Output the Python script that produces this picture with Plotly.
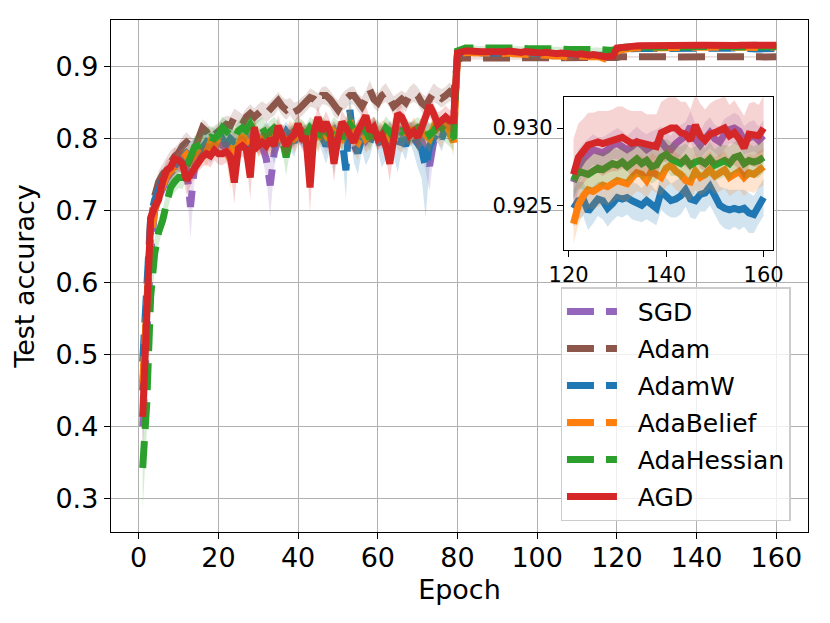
import plotly.graph_objects as go

EPOCHS = list(range(1, 161))
X_TICKS = [0, 20, 40, 60, 80, 100, 120, 140, 160]
Y_TICKS = [0.3, 0.4, 0.5, 0.6, 0.7, 0.8, 0.9]
INSET_X_TICKS = [120, 140, 160]
INSET_Y_TICKS = [0.925, 0.930]
INSET_Y_LABELS = ["0.925", "0.930"]

NAMES = ["SGD", "Adam", "AdamW", "AdaBelief", "AdaHessian", "AGD"]
COLORS = ["#9467bd", "#8c564b", "#1f77b4", "#ff7f0e", "#2ca02c", "#d62728"]

SGD_MEAN = [
    0.400, 0.520, 0.640, 0.700, 0.720, 0.730, 0.745, 0.752, 0.760, 0.765,
    0.770, 0.758, 0.705, 0.760, 0.775, 0.780, 0.786, 0.780, 0.790, 0.795,
    0.790, 0.786, 0.792, 0.796, 0.788, 0.800, 0.795, 0.802, 0.792, 0.800,
    0.790, 0.772, 0.735, 0.780, 0.800, 0.806, 0.798, 0.810, 0.800, 0.808,
    0.800, 0.806, 0.812, 0.798, 0.815, 0.808, 0.796, 0.806, 0.812, 0.800,
    0.815, 0.802, 0.810, 0.794, 0.815, 0.808, 0.798, 0.806, 0.818, 0.810,
    0.800, 0.804, 0.812, 0.796, 0.815, 0.808, 0.800, 0.812, 0.804, 0.810,
    0.798, 0.780, 0.762, 0.795, 0.810, 0.815, 0.820, 0.808, 0.815, 0.917,
    0.920, 0.921, 0.921, 0.920, 0.921, 0.920, 0.920, 0.921, 0.920, 0.920,
    0.919, 0.920, 0.920, 0.919, 0.920, 0.919, 0.919, 0.920, 0.919, 0.918,
    0.919, 0.918, 0.918, 0.919, 0.918, 0.917, 0.918, 0.917, 0.917, 0.916,
    0.917, 0.916, 0.916, 0.915, 0.916, 0.915, 0.915, 0.914, 0.915, 0.9255,
    0.9265, 0.9275, 0.9280, 0.9283, 0.9286, 0.9285, 0.9284, 0.9286, 0.9289, 0.9290,
    0.9288, 0.9286, 0.9288, 0.9291, 0.9289, 0.9286, 0.9288, 0.9290, 0.9291, 0.9287,
    0.9286, 0.9290, 0.9292, 0.9295, 0.9301, 0.9293, 0.9289, 0.9294, 0.9297, 0.9293,
    0.9291, 0.9296, 0.9299, 0.9300, 0.9298, 0.9292, 0.9294, 0.9295, 0.9292, 0.9295,
]
SGD_STD = [
    0.040, 0.030, 0.020, 0.016, 0.015, 0.015, 0.014, 0.014, 0.014, 0.015,
    0.015, 0.020, 0.045, 0.020, 0.015, 0.014, 0.012, 0.015, 0.012, 0.014,
    0.014, 0.015, 0.012, 0.014, 0.016, 0.012, 0.015, 0.012, 0.016, 0.014,
    0.015, 0.025, 0.045, 0.020, 0.012, 0.014, 0.015, 0.012, 0.014, 0.013,
    0.014, 0.013, 0.012, 0.016, 0.012, 0.014, 0.018, 0.013, 0.012, 0.015,
    0.012, 0.015, 0.013, 0.020, 0.012, 0.014, 0.016, 0.013, 0.012, 0.013,
    0.015, 0.014, 0.012, 0.018, 0.012, 0.014, 0.016, 0.012, 0.014, 0.013,
    0.016, 0.025, 0.035, 0.018, 0.013, 0.012, 0.012, 0.014, 0.013, 0.004,
    0.003, 0.003, 0.003, 0.003, 0.003, 0.003, 0.003, 0.003, 0.003, 0.003,
    0.003, 0.003, 0.003, 0.003, 0.003, 0.003, 0.003, 0.003, 0.003, 0.003,
    0.003, 0.003, 0.003, 0.003, 0.003, 0.003, 0.003, 0.003, 0.003, 0.003,
    0.003, 0.003, 0.003, 0.003, 0.003, 0.003, 0.003, 0.003, 0.003, 0.0015,
    0.0012, 0.0011, 0.0010, 0.0010, 0.0010, 0.0009, 0.0010, 0.0010, 0.0009, 0.0010,
    0.0010, 0.0009, 0.0010, 0.0010, 0.0009, 0.0010, 0.0010, 0.0009, 0.0010, 0.0010,
    0.0009, 0.0010, 0.0010, 0.0009, 0.0010, 0.0010, 0.0009, 0.0010, 0.0010, 0.0009,
    0.0010, 0.0010, 0.0009, 0.0010, 0.0010, 0.0009, 0.0010, 0.0010, 0.0009, 0.0010,
]

ADAM_MEAN = [
    0.450, 0.580, 0.680, 0.720, 0.740, 0.750, 0.760, 0.770, 0.775, 0.780,
    0.790, 0.795, 0.790, 0.785, 0.800, 0.815, 0.810, 0.800, 0.805, 0.810,
    0.815, 0.820, 0.818, 0.830, 0.825, 0.820, 0.830, 0.835, 0.830, 0.835,
    0.840, 0.835, 0.840, 0.845, 0.853, 0.845, 0.840, 0.845, 0.837, 0.840,
    0.845, 0.850, 0.857, 0.855, 0.850, 0.860, 0.860, 0.855, 0.845, 0.840,
    0.850, 0.855, 0.860, 0.860, 0.850, 0.845, 0.855, 0.868, 0.855, 0.850,
    0.860, 0.864, 0.855, 0.845, 0.850, 0.855, 0.850, 0.860, 0.864, 0.860,
    0.850, 0.845, 0.855, 0.864, 0.860, 0.856, 0.860, 0.865, 0.860, 0.909,
    0.912, 0.912, 0.911, 0.912, 0.911, 0.912, 0.911, 0.911, 0.912, 0.911,
    0.911, 0.912, 0.911, 0.911, 0.912, 0.911, 0.911, 0.912, 0.911, 0.911,
    0.912, 0.911, 0.911, 0.911, 0.912, 0.911, 0.911, 0.911, 0.912, 0.911,
    0.911, 0.911, 0.912, 0.911, 0.911, 0.911, 0.911, 0.911, 0.911, 0.913,
    0.9138, 0.9140, 0.9138, 0.9137, 0.9139, 0.9138, 0.9140, 0.9138, 0.9137, 0.9138,
    0.9139, 0.9138, 0.9137, 0.9138, 0.9140, 0.9138, 0.9137, 0.9138, 0.9139, 0.9138,
    0.9137, 0.9138, 0.9139, 0.9138, 0.9137, 0.9138, 0.9140, 0.9138, 0.9137, 0.9138,
    0.9139, 0.9138, 0.9137, 0.9138, 0.9139, 0.9138, 0.9137, 0.9138, 0.9138, 0.9139,
]
ADAM_STD = [
    0.040, 0.030, 0.020, 0.016, 0.015, 0.015, 0.014, 0.014, 0.013, 0.013,
    0.013, 0.014, 0.013, 0.014, 0.013, 0.012, 0.013, 0.014, 0.013, 0.012,
    0.013, 0.012, 0.013, 0.012, 0.013, 0.014, 0.012, 0.013, 0.012, 0.013,
    0.012, 0.013, 0.012, 0.013, 0.012, 0.013, 0.014, 0.012, 0.013, 0.012,
    0.013, 0.012, 0.013, 0.012, 0.013, 0.012, 0.013, 0.012, 0.014, 0.013,
    0.012, 0.013, 0.012, 0.013, 0.012, 0.013, 0.012, 0.013, 0.012, 0.013,
    0.012, 0.013, 0.012, 0.014, 0.013, 0.012, 0.013, 0.012, 0.013, 0.012,
    0.013, 0.014, 0.012, 0.013, 0.012, 0.013, 0.012, 0.013, 0.012, 0.004,
    0.002, 0.002, 0.002, 0.002, 0.002, 0.002, 0.002, 0.002, 0.002, 0.002,
    0.002, 0.002, 0.002, 0.002, 0.002, 0.002, 0.002, 0.002, 0.002, 0.002,
    0.002, 0.002, 0.002, 0.002, 0.002, 0.002, 0.002, 0.002, 0.002, 0.002,
    0.002, 0.002, 0.002, 0.002, 0.002, 0.002, 0.002, 0.002, 0.002, 0.002,
    0.0012, 0.0012, 0.0012, 0.0012, 0.0012, 0.0012, 0.0012, 0.0012, 0.0012, 0.0012,
    0.0012, 0.0012, 0.0012, 0.0012, 0.0012, 0.0012, 0.0012, 0.0012, 0.0012, 0.0012,
    0.0012, 0.0012, 0.0012, 0.0012, 0.0012, 0.0012, 0.0012, 0.0012, 0.0012, 0.0012,
    0.0012, 0.0012, 0.0012, 0.0012, 0.0012, 0.0012, 0.0012, 0.0012, 0.0012, 0.0012,
]

ADAMW_MEAN = [
    0.490, 0.600, 0.690, 0.715, 0.730, 0.742, 0.750, 0.756, 0.765, 0.770,
    0.775, 0.780, 0.775, 0.785, 0.780, 0.790, 0.795, 0.790, 0.800, 0.795,
    0.800, 0.790, 0.800, 0.795, 0.800, 0.805, 0.790, 0.785, 0.800, 0.795,
    0.800, 0.810, 0.800, 0.790, 0.805, 0.800, 0.810, 0.800, 0.795, 0.810,
    0.805, 0.800, 0.810, 0.800, 0.815, 0.800, 0.790, 0.800, 0.780, 0.810,
    0.800, 0.756, 0.840, 0.792, 0.780, 0.800, 0.788, 0.795, 0.810, 0.800,
    0.785, 0.790, 0.810, 0.795, 0.783, 0.800, 0.790, 0.810, 0.800, 0.790,
    0.785, 0.760, 0.790, 0.800, 0.810, 0.800, 0.815, 0.820, 0.815, 0.918,
    0.920, 0.920, 0.919, 0.920, 0.920, 0.919, 0.920, 0.919, 0.919, 0.920,
    0.919, 0.919, 0.920, 0.919, 0.919, 0.918, 0.919, 0.919, 0.918, 0.919,
    0.918, 0.918, 0.919, 0.918, 0.918, 0.917, 0.918, 0.917, 0.917, 0.918,
    0.917, 0.917, 0.916, 0.917, 0.916, 0.916, 0.917, 0.916, 0.916, 0.9243,
    0.9248, 0.9253, 0.9254, 0.9246, 0.9250, 0.9254, 0.9253, 0.9248, 0.9251, 0.9255,
    0.9254, 0.9255, 0.9253, 0.9252, 0.9250, 0.9253, 0.9251, 0.9248, 0.9259, 0.9256,
    0.9253, 0.9254, 0.9256, 0.9260, 0.9254, 0.9253, 0.9257, 0.9258, 0.9262, 0.9256,
    0.9250, 0.9248, 0.9247, 0.9248, 0.9247, 0.9248, 0.9245, 0.9244, 0.9250, 0.9255,
]
ADAMW_STD = [
    0.040, 0.030, 0.020, 0.016, 0.015, 0.015, 0.014, 0.014, 0.015, 0.015,
    0.015, 0.016, 0.020, 0.016, 0.015, 0.014, 0.015, 0.016, 0.014, 0.015,
    0.016, 0.020, 0.015, 0.016, 0.014, 0.015, 0.020, 0.025, 0.015, 0.016,
    0.015, 0.014, 0.016, 0.025, 0.015, 0.016, 0.014, 0.016, 0.020, 0.015,
    0.016, 0.018, 0.015, 0.016, 0.014, 0.018, 0.025, 0.016, 0.030, 0.015,
    0.016, 0.040, 0.020, 0.025, 0.030, 0.016, 0.025, 0.020, 0.015, 0.018,
    0.025, 0.020, 0.015, 0.020, 0.030, 0.016, 0.020, 0.015, 0.020, 0.030,
    0.040, 0.070, 0.030, 0.020, 0.015, 0.018, 0.015, 0.014, 0.015, 0.004,
    0.003, 0.003, 0.003, 0.003, 0.003, 0.003, 0.003, 0.003, 0.003, 0.003,
    0.003, 0.003, 0.003, 0.003, 0.003, 0.003, 0.003, 0.003, 0.003, 0.003,
    0.003, 0.003, 0.003, 0.003, 0.003, 0.003, 0.003, 0.003, 0.003, 0.003,
    0.003, 0.003, 0.003, 0.003, 0.003, 0.003, 0.003, 0.003, 0.003, 0.0015,
    0.0012, 0.0012, 0.0011, 0.0012, 0.0012, 0.0011, 0.0012, 0.0012, 0.0011, 0.0012,
    0.0012, 0.0011, 0.0012, 0.0012, 0.0011, 0.0012, 0.0012, 0.0011, 0.0012, 0.0012,
    0.0011, 0.0012, 0.0012, 0.0011, 0.0012, 0.0012, 0.0011, 0.0012, 0.0012, 0.0012,
    0.0012, 0.0013, 0.0013, 0.0012, 0.0013, 0.0012, 0.0013, 0.0012, 0.0012, 0.0012,
]

ADABELIEF_MEAN = [
    0.460, 0.570, 0.660, 0.700, 0.720, 0.735, 0.748, 0.755, 0.762, 0.768,
    0.772, 0.778, 0.770, 0.780, 0.785, 0.790, 0.780, 0.795, 0.790, 0.800,
    0.795, 0.790, 0.770, 0.800, 0.790, 0.805, 0.795, 0.800, 0.810, 0.795,
    0.800, 0.805, 0.795, 0.810, 0.800, 0.805, 0.795, 0.810, 0.800, 0.805,
    0.810, 0.800, 0.805, 0.815, 0.800, 0.810, 0.805, 0.795, 0.810, 0.805,
    0.800, 0.810, 0.830, 0.800, 0.795, 0.810, 0.800, 0.805, 0.815, 0.800,
    0.810, 0.805, 0.800, 0.815, 0.805, 0.800, 0.810, 0.805, 0.815, 0.800,
    0.810, 0.805, 0.800, 0.815, 0.810, 0.805, 0.820, 0.810, 0.795, 0.916,
    0.919, 0.920, 0.920, 0.919, 0.920, 0.919, 0.919, 0.920, 0.919, 0.918,
    0.919, 0.918, 0.919, 0.918, 0.918, 0.917, 0.918, 0.917, 0.916, 0.917,
    0.916, 0.917, 0.916, 0.915, 0.916, 0.915, 0.914, 0.912, 0.914, 0.915,
    0.916, 0.915, 0.914, 0.915, 0.914, 0.913, 0.911, 0.912, 0.914, 0.9225,
    0.9238, 0.9250, 0.9256, 0.9260, 0.9259, 0.9261, 0.9263, 0.9262, 0.9264, 0.9266,
    0.9265, 0.9264, 0.9268, 0.9271, 0.9270, 0.9266, 0.9272, 0.9270, 0.9268, 0.9274,
    0.9276, 0.9272, 0.9270, 0.9266, 0.9265, 0.9272, 0.9268, 0.9270, 0.9273, 0.9269,
    0.9271, 0.9273, 0.9268, 0.9270, 0.9272, 0.9268, 0.9271, 0.9270, 0.9273, 0.9275,
]
ADABELIEF_STD = [
    0.040, 0.030, 0.020, 0.016, 0.015, 0.015, 0.014, 0.014, 0.015, 0.015,
    0.015, 0.016, 0.020, 0.016, 0.015, 0.014, 0.020, 0.016, 0.014, 0.015,
    0.016, 0.020, 0.040, 0.016, 0.020, 0.015, 0.020, 0.016, 0.015, 0.020,
    0.015, 0.014, 0.020, 0.015, 0.015, 0.016, 0.020, 0.016, 0.020, 0.015,
    0.016, 0.018, 0.015, 0.016, 0.020, 0.018, 0.015, 0.020, 0.015, 0.015,
    0.016, 0.015, 0.020, 0.020, 0.025, 0.016, 0.020, 0.020, 0.015, 0.018,
    0.015, 0.020, 0.020, 0.015, 0.020, 0.020, 0.015, 0.015, 0.015, 0.020,
    0.020, 0.015, 0.020, 0.015, 0.015, 0.018, 0.015, 0.014, 0.020, 0.004,
    0.003, 0.003, 0.003, 0.003, 0.003, 0.003, 0.003, 0.003, 0.003, 0.003,
    0.003, 0.003, 0.003, 0.003, 0.003, 0.003, 0.003, 0.003, 0.003, 0.003,
    0.003, 0.003, 0.003, 0.003, 0.003, 0.003, 0.003, 0.004, 0.003, 0.003,
    0.003, 0.003, 0.003, 0.003, 0.003, 0.003, 0.004, 0.003, 0.003, 0.0015,
    0.0013, 0.0013, 0.0012, 0.0012, 0.0012, 0.0012, 0.0012, 0.0012, 0.0012, 0.0012,
    0.0012, 0.0012, 0.0012, 0.0012, 0.0012, 0.0012, 0.0012, 0.0012, 0.0012, 0.0012,
    0.0012, 0.0012, 0.0012, 0.0012, 0.0012, 0.0012, 0.0012, 0.0012, 0.0012, 0.0012,
    0.0012, 0.0012, 0.0012, 0.0012, 0.0012, 0.0012, 0.0012, 0.0012, 0.0012, 0.0012,
]

ADAHESSIAN_MEAN = [
    0.342, 0.430, 0.580, 0.640, 0.670, 0.686, 0.710, 0.732, 0.740, 0.746,
    0.746, 0.760, 0.770, 0.788, 0.790, 0.795, 0.800, 0.802, 0.800, 0.805,
    0.815, 0.810, 0.805, 0.800, 0.811, 0.815, 0.811, 0.820, 0.810, 0.811,
    0.815, 0.805, 0.810, 0.815, 0.810, 0.800, 0.774, 0.800, 0.810, 0.815,
    0.810, 0.805, 0.815, 0.810, 0.800, 0.815, 0.810, 0.805, 0.815, 0.810,
    0.800, 0.815, 0.820, 0.810, 0.805, 0.815, 0.810, 0.800, 0.815, 0.810,
    0.805, 0.815, 0.810, 0.800, 0.815, 0.810, 0.815, 0.805, 0.810, 0.815,
    0.810, 0.815, 0.805, 0.810, 0.820, 0.815, 0.810, 0.805, 0.800, 0.922,
    0.925, 0.926, 0.926, 0.927, 0.926, 0.926, 0.927, 0.926, 0.926, 0.927,
    0.926, 0.926, 0.925, 0.926, 0.926, 0.925, 0.926, 0.925, 0.925, 0.926,
    0.925, 0.925, 0.924, 0.925, 0.925, 0.924, 0.925, 0.924, 0.924, 0.925,
    0.924, 0.924, 0.923, 0.924, 0.924, 0.923, 0.924, 0.923, 0.923, 0.9262,
    0.9266, 0.9272, 0.9271, 0.9270, 0.9272, 0.9274, 0.9273, 0.9275, 0.9277, 0.9276,
    0.9278, 0.9275, 0.9278, 0.9280, 0.9277, 0.9279, 0.9275, 0.9276, 0.9281, 0.9283,
    0.9280, 0.9279, 0.9277, 0.9280, 0.9276, 0.9278, 0.9279, 0.9277, 0.9280, 0.9276,
    0.9278, 0.9279, 0.9277, 0.9281, 0.9282, 0.9277, 0.9279, 0.9278, 0.9279, 0.9281,
]
ADAHESSIAN_STD = [
    0.060, 0.040, 0.025, 0.020, 0.018, 0.016, 0.015, 0.015, 0.015, 0.015,
    0.016, 0.015, 0.015, 0.016, 0.015, 0.014, 0.015, 0.016, 0.014, 0.015,
    0.016, 0.015, 0.015, 0.016, 0.014, 0.015, 0.016, 0.016, 0.015, 0.015,
    0.015, 0.014, 0.016, 0.015, 0.015, 0.016, 0.025, 0.016, 0.015, 0.015,
    0.016, 0.015, 0.015, 0.016, 0.016, 0.015, 0.015, 0.016, 0.015, 0.015,
    0.016, 0.015, 0.015, 0.016, 0.015, 0.016, 0.015, 0.016, 0.015, 0.015,
    0.015, 0.016, 0.015, 0.016, 0.015, 0.015, 0.015, 0.016, 0.015, 0.015,
    0.016, 0.015, 0.016, 0.015, 0.015, 0.015, 0.015, 0.016, 0.016, 0.004,
    0.003, 0.003, 0.003, 0.003, 0.003, 0.003, 0.003, 0.003, 0.003, 0.003,
    0.003, 0.003, 0.003, 0.003, 0.003, 0.003, 0.003, 0.003, 0.003, 0.003,
    0.003, 0.003, 0.003, 0.003, 0.003, 0.003, 0.003, 0.003, 0.003, 0.003,
    0.003, 0.003, 0.003, 0.003, 0.003, 0.003, 0.003, 0.003, 0.003, 0.0015,
    0.0012, 0.0011, 0.0011, 0.0010, 0.0011, 0.0010, 0.0011, 0.0010, 0.0011, 0.0010,
    0.0011, 0.0010, 0.0011, 0.0010, 0.0011, 0.0010, 0.0011, 0.0010, 0.0011, 0.0010,
    0.0011, 0.0010, 0.0011, 0.0010, 0.0011, 0.0010, 0.0011, 0.0010, 0.0011, 0.0010,
    0.0011, 0.0010, 0.0011, 0.0010, 0.0011, 0.0010, 0.0011, 0.0010, 0.0011, 0.0010,
]

AGD_MEAN = [
    0.413, 0.550, 0.690, 0.705, 0.715, 0.740, 0.756, 0.760, 0.772, 0.770,
    0.765, 0.742, 0.750, 0.762, 0.769, 0.775, 0.779, 0.776, 0.784, 0.779,
    0.779, 0.782, 0.775, 0.739, 0.786, 0.790, 0.785, 0.746, 0.816, 0.790,
    0.795, 0.790, 0.800, 0.790, 0.818, 0.800, 0.790, 0.800, 0.805, 0.821,
    0.800, 0.800, 0.732, 0.810, 0.830, 0.810, 0.823, 0.810, 0.765, 0.800,
    0.823, 0.815, 0.802, 0.795, 0.810, 0.820, 0.832, 0.810, 0.816, 0.800,
    0.805, 0.790, 0.765, 0.800, 0.835, 0.830, 0.816, 0.805, 0.810, 0.802,
    0.815, 0.830, 0.846, 0.835, 0.820, 0.825, 0.830, 0.825, 0.825, 0.919,
    0.921, 0.922, 0.922, 0.921, 0.922, 0.921, 0.921, 0.922, 0.921, 0.921,
    0.920, 0.921, 0.922, 0.921, 0.921, 0.920, 0.921, 0.920, 0.920, 0.920,
    0.919, 0.920, 0.919, 0.919, 0.918, 0.919, 0.918, 0.918, 0.917, 0.917,
    0.918, 0.916, 0.916, 0.917, 0.915, 0.915, 0.914, 0.914, 0.915, 0.926,
    0.9270, 0.9281, 0.9285, 0.9289, 0.9290, 0.9291, 0.9290, 0.9291, 0.9292, 0.9293,
    0.9294, 0.9292, 0.9290, 0.9291, 0.9290, 0.9289, 0.9289, 0.9288, 0.9297, 0.9299,
    0.9300, 0.9300, 0.9297, 0.9296, 0.9292, 0.9302, 0.9295, 0.9292, 0.9296, 0.9297,
    0.9299, 0.9300, 0.9295, 0.9297, 0.9293, 0.9287, 0.9296, 0.9296, 0.9295, 0.9300,
]
AGD_STD = [
    0.040, 0.030, 0.020, 0.016, 0.015, 0.015, 0.014, 0.014, 0.015, 0.015,
    0.015, 0.020, 0.016, 0.016, 0.015, 0.014, 0.015, 0.016, 0.014, 0.015,
    0.016, 0.015, 0.016, 0.030, 0.015, 0.015, 0.016, 0.030, 0.016, 0.015,
    0.015, 0.016, 0.015, 0.016, 0.015, 0.016, 0.015, 0.016, 0.015, 0.016,
    0.016, 0.020, 0.035, 0.016, 0.015, 0.016, 0.015, 0.016, 0.025, 0.015,
    0.016, 0.015, 0.016, 0.016, 0.015, 0.016, 0.015, 0.016, 0.015, 0.016,
    0.015, 0.016, 0.025, 0.016, 0.015, 0.016, 0.015, 0.016, 0.015, 0.016,
    0.016, 0.015, 0.016, 0.015, 0.016, 0.015, 0.016, 0.015, 0.016, 0.004,
    0.003, 0.003, 0.003, 0.003, 0.003, 0.003, 0.003, 0.003, 0.003, 0.003,
    0.003, 0.003, 0.003, 0.003, 0.003, 0.003, 0.003, 0.003, 0.003, 0.003,
    0.003, 0.003, 0.003, 0.003, 0.003, 0.003, 0.003, 0.003, 0.003, 0.003,
    0.003, 0.003, 0.003, 0.003, 0.003, 0.003, 0.003, 0.003, 0.003, 0.003,
    0.0023, 0.0022, 0.0021, 0.0021, 0.0020, 0.0020, 0.0021, 0.0020, 0.0020, 0.0021,
    0.0020, 0.0020, 0.0021, 0.0020, 0.0021, 0.0020, 0.0020, 0.0021, 0.0020, 0.0020,
    0.0021, 0.0020, 0.0020, 0.0021, 0.0020, 0.0020, 0.0021, 0.0020, 0.0020, 0.0021,
    0.0020, 0.0021, 0.0020, 0.0021, 0.0020, 0.0021, 0.0020, 0.0021, 0.0020, 0.0021,
]

MEANS = [SGD_MEAN, ADAM_MEAN, ADAMW_MEAN, ADABELIEF_MEAN, ADAHESSIAN_MEAN, AGD_MEAN]
STDS = [SGD_STD, ADAM_STD, ADAMW_STD, ADABELIEF_STD, ADAHESSIAN_STD, AGD_STD]
DASHED = [True, True, True, True, True, False]
INSET_START = 120  # index of epoch 121
LEGEND_PAD = "\u00a0\u00a0"


def rgba(hex_color, a):
    h = hex_color.lstrip("#")
    r, g, b = int(h[0:2], 16), int(h[2:4], 16), int(h[4:6], 16)
    return f"rgba({r},{g},{b},{a})"


fig = go.Figure()

for sub in ("main", "inset"):
    xa, ya = ("x", "y") if sub == "main" else ("x2", "y2")
    for name, mean, std, color, dashed in zip(NAMES, MEANS, STDS, COLORS, DASHED):
        xs = EPOCHS if sub == "main" else EPOCHS[INSET_START:]
        ms = mean if sub == "main" else mean[INSET_START:]
        ss = std if sub == "main" else std[INSET_START:]
        upper = [m + s for m, s in zip(ms, ss)]
        lower = [m - s for m, s in zip(ms, ss)]
        fig.add_trace(go.Scatter(
            x=xs + xs[::-1], y=upper + lower[::-1],
            fill="toself", fillcolor=rgba(color, 0.2),
            line=dict(width=0), mode="lines", legendgroup=name,
            showlegend=False, hoverinfo="skip", xaxis=xa, yaxis=ya,
        ))
        dash = "27px,12px" if (dashed and sub == "main") else "solid"
        fig.add_trace(go.Scatter(
            x=xs, y=ms, mode="lines", name=LEGEND_PAD + name, legendgroup=name,
            line=dict(color=color, width=7, dash=dash),
            showlegend=(sub == "main"), xaxis=xa, yaxis=ya,
        ))

axis_common = dict(
    showline=True, linecolor="black", linewidth=1.4, mirror=True,
    ticks="outside", ticklen=6, tickwidth=1.4, tickcolor="black",
    zeroline=False,
)

# the page body adds an 8px offset, so the figure is 8px smaller and margins shifted
fig.update_layout(
    width=822, height=615,
    margin=dict(l=103, r=20, t=11, b=91.3, pad=0),
    paper_bgcolor="white", plot_bgcolor="white",
    font=dict(family="DejaVu Sans", size=27, color="black"),
    legend=dict(
        x=0.645, y=0.478, xanchor="left", yanchor="top",
        bgcolor="rgba(255,255,255,0.8)", bordercolor="#cccccc", borderwidth=1.4,
        font=dict(size=25), itemwidth=50, tracegroupgap=1.5,
    ),
    xaxis=dict(
        domain=[0, 1], range=[-6.95, 167.95], tickvals=X_TICKS,
        showgrid=True, gridcolor="#b0b0b0", gridwidth=1.4,
        title=dict(text="Epoch", font=dict(size=27), standoff=8),
        tickfont=dict(size=27), ticklabelstandoff=-5, **axis_common,
    ),
    yaxis=dict(
        domain=[0, 1], range=[0.253, 0.965], tickvals=Y_TICKS,
        showgrid=True, gridcolor="#b0b0b0", gridwidth=1.4,
        title=dict(text="Test accuracy", font=dict(size=27), standoff=12),
        tickfont=dict(size=27), **axis_common,
    ),
    xaxis2=dict(
        domain=[0.6499, 0.9499], anchor="y2", range=[119.05, 161.95],
        tickvals=INSET_X_TICKS, showgrid=False, tickfont=dict(size=21),
        **axis_common,
    ),
    yaxis2=dict(
        domain=[0.5508, 0.8492], anchor="x2", range=[0.9221, 0.9320],
        tickvals=INSET_Y_TICKS, ticktext=INSET_Y_LABELS, showgrid=False,
        tickfont=dict(size=21), **axis_common,
    ),
)

fig.write_html("out.html")
